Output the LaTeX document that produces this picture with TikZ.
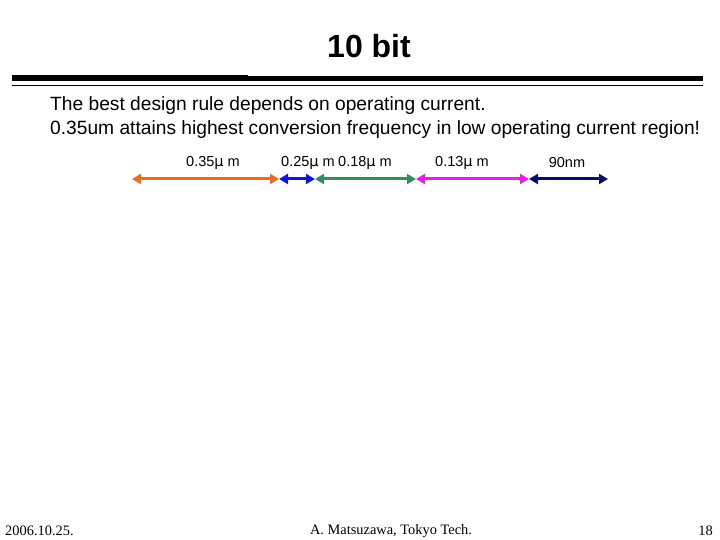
\documentclass[tikz,border=0pt]{standalone}
\usepackage{fontspec}
\setmainfont{Liberation Sans}
\newfontfamily\serif{Liberation Serif}
\newfontfamily\djfont{DejaVu Sans}
\usetikzlibrary{arrows.meta}
\definecolor{corange}{RGB}{235,110,30}
\definecolor{cblue}{RGB}{20,20,220}
\definecolor{cgreen}{RGB}{50,140,100}
\definecolor{cmag}{RGB}{230,30,230}
\definecolor{cnavy}{RGB}{10,10,110}
\begin{document}
\begin{tikzpicture}[x=1pt,y=-1pt,
  dbl/.style={line width=3pt,{Triangle[length=9pt,width=10pt]}-{Triangle[length=9pt,width=10pt]}},
  lbl/.style={font=\fontsize{14.5}{17}\selectfont,inner sep=0pt},
  foot/.style={font=\serif\fontsize{14.4}{17}\selectfont,inner sep=0pt}]
\useasboundingbox (0,0) rectangle (720,540);
\node[font=\bfseries\fontsize{32}{36}\selectfont] (title) at (369,46) {10 bit};
\fill (12,75) rectangle (248,81);
\fill (248,76) rectangle (703,81);
\draw[line width=1pt] (12,85.5) -- (703,85.5);
\node[anchor=west,inner sep=0pt,font=\fontsize{19.2}{22}\selectfont] (l1) at (50,106) {The best design rule depends on operating current.};
\node[anchor=west,inner sep=0pt,font=\fontsize{19.2}{22}\selectfont] (l2) at (50,130) {0.35um attains highest conversion frequency in low operating current region!};
\coordinate (p0) at (132,179); \coordinate (p1) at (279,179);
\coordinate (p2) at (315,179); \coordinate (p3) at (416,179);
\coordinate (p4) at (529,179); \coordinate (p5) at (608,179);
\draw[dbl,corange] (p0) -- (p1);
\draw[dbl,cblue] (p1) -- (p2);
\draw[dbl,cgreen] (p2) -- (p3);
\draw[dbl,cmag] (p3) -- (p4);
\draw[dbl,cnavy] (p4) -- (p5);
\node[lbl] (t1) at (213,163) {0.35{\djfont\fontsize{14.5}{17}\selectfont μ} m};
\node[lbl] (t2) at (308,163) {0.25{\djfont\fontsize{14.5}{17}\selectfont μ} m};
\node[lbl] (t3) at (365,163) {0.18{\djfont\fontsize{14.5}{17}\selectfont μ} m};
\node[lbl] (t4) at (462,163) {0.13{\djfont\fontsize{14.5}{17}\selectfont μ} m};
\node[lbl] (t5) at (567,163) {90nm};
\node[foot,anchor=west] (d) at (5,531) {2006.10.25.};
\node[foot] (a) at (391,531) {A. Matsuzawa, Tokyo Tech.};
\node[foot,anchor=east] (n) at (713,531) {18};
\end{tikzpicture}
\end{document}
